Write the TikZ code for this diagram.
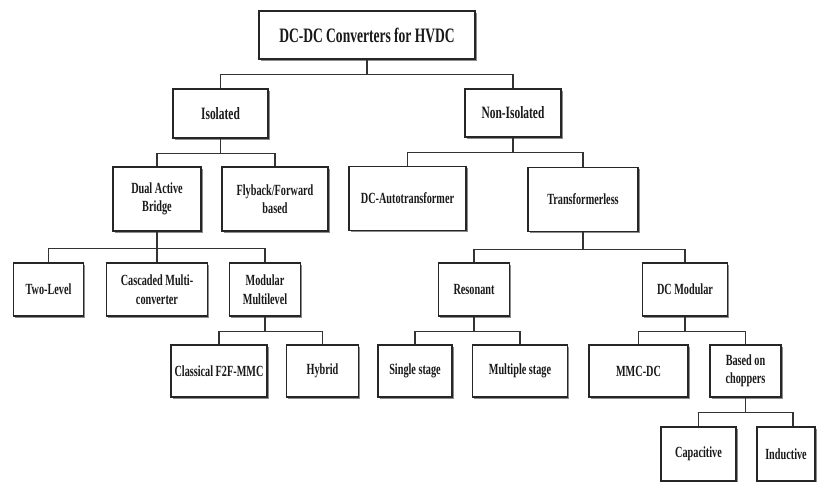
\documentclass[tikz,border=0pt]{standalone}
\usepackage{fontspec}
\setmainfont{Liberation Serif}
\newfontfamily\cond[FakeStretch=0.66]{Liberation Serif}
\usetikzlibrary{shadows}
\tikzset{
  box/.style={draw=black!85, line width=1.5pt, fill=white, align=center,
    inner sep=0pt, anchor=center, text=black!90,
    font=\cond\bfseries\fontsize{15.5}{18.5}\selectfont,
    drop shadow={shadow xshift=1.6pt, shadow yshift=-1.6pt, fill=black!45, opacity=1}},
  midbox/.style={box, font=\cond\bfseries\fontsize{17.3}{20}\selectfont},
  rootbox/.style={box, font=\cond\bfseries\fontsize{20.5}{24}\selectfont},
  conn/.style={draw=black!80, line width=1.4pt},
}
\begin{document}
\begin{tikzpicture}[x=1pt,y=1pt]
\useasboundingbox (0,0) rectangle (817,-482);
% level 1
\node[rootbox, minimum width=216, minimum height=48] (root) at (367,-35) {DC-DC Converters for HVDC};
% level 2
\node[midbox, minimum width=95, minimum height=49] (iso) at (220.5,-113.5) {Isolated};
\node[midbox, minimum width=96, minimum height=48] (noniso) at (513,-113) {Non-Isolated};
% level 3
\node[box, minimum width=88, minimum height=64] (dab) at (157,-199) {Dual Active\\Bridge};
\node[box, minimum width=106, minimum height=64] (fly) at (275,-199) {Flyback/Forward\\based};
\node[box, minimum width=117, minimum height=64] (auto) at (407.5,-198.5) {DC-Autotransformer};
\node[box, minimum width=110, minimum height=64] (trans) at (583,-199.5) {Transformerless};
% level 4
\node[box, minimum width=70, minimum height=53] (twol) at (48.5,-289.5) {Two-Level};
\node[box, minimum width=101, minimum height=53] (casc) at (157,-289.5) {Cascaded Multi-\\converter};
\node[box, minimum width=71, minimum height=53] (modm) at (265,-289.5) {Modular\\Multilevel};
\node[box, minimum width=71, minimum height=53] (reson) at (474,-289.5) {Resonant};
\node[box, minimum width=85, minimum height=53] (dcmod) at (685,-289.5) {DC Modular};
% level 5
\node[box, minimum width=96, minimum height=52] (clas) at (219,-371) {Classical F2F-MMC};
\node[box, minimum width=72, minimum height=52] (hyb) at (322.5,-371) {Hybrid};
\node[box, minimum width=74, minimum height=52] (single) at (415,-371) {Single stage};
\node[box, minimum width=95, minimum height=52] (multi) at (520,-371) {Multiple stage};
\node[box, minimum width=99, minimum height=52] (mmcdc) at (638.5,-371) {MMC-DC};
\node[box, minimum width=71, minimum height=52] (chop) at (745.5,-371) {Based on\\choppers};
% level 6
\node[box, minimum width=75, minimum height=54] (capa) at (698.5,-454) {Capacitive};
\node[box, minimum width=58, minimum height=54] (indu) at (786,-454) {Inductive};
% connectors
\draw[conn] (root.south) -- ++(0,-15) -| (iso.north);
\draw[conn] (root.south) -- ++(0,-15) -| (noniso.north);
\draw[conn] (iso.south) -- ++(0,-15) -| (dab.north);
\draw[conn] (iso.south) -- ++(0,-15) -| (fly.north);
\draw[conn] (noniso.south) -- ++(0,-15) -| (auto.north);
\draw[conn] (noniso.south) -- ++(0,-15) -| (trans.north);
\draw[conn] (dab.south) -- ++(0,-17) -| (twol.north);
\draw[conn] (dab.south) -- ++(0,-17) -| (casc.north);
\draw[conn] (dab.south) -- ++(0,-17) -| (modm.north);
\draw[conn] (trans.south) -- ++(0,-17) -| (reson.north);
\draw[conn] (trans.south) -- ++(0,-17) -| (dcmod.north);
\draw[conn] (modm.south) -- ++(0,-15) -| (clas.north);
\draw[conn] (modm.south) -- ++(0,-15) -| (hyb.north);
\draw[conn] (reson.south) -- ++(0,-15) -| (single.north);
\draw[conn] (reson.south) -- ++(0,-15) -| (multi.north);
\draw[conn] (dcmod.south) -- ++(0,-15) -| (mmcdc.north);
\draw[conn] (dcmod.south) -- ++(0,-15) -| (chop.north);
\draw[conn] (chop.south) -- ++(0,-15) -| (capa.north);
\draw[conn] (chop.south) -- ++(0,-15) -| ([xshift=7pt]indu.north);
\end{tikzpicture}
\end{document}
